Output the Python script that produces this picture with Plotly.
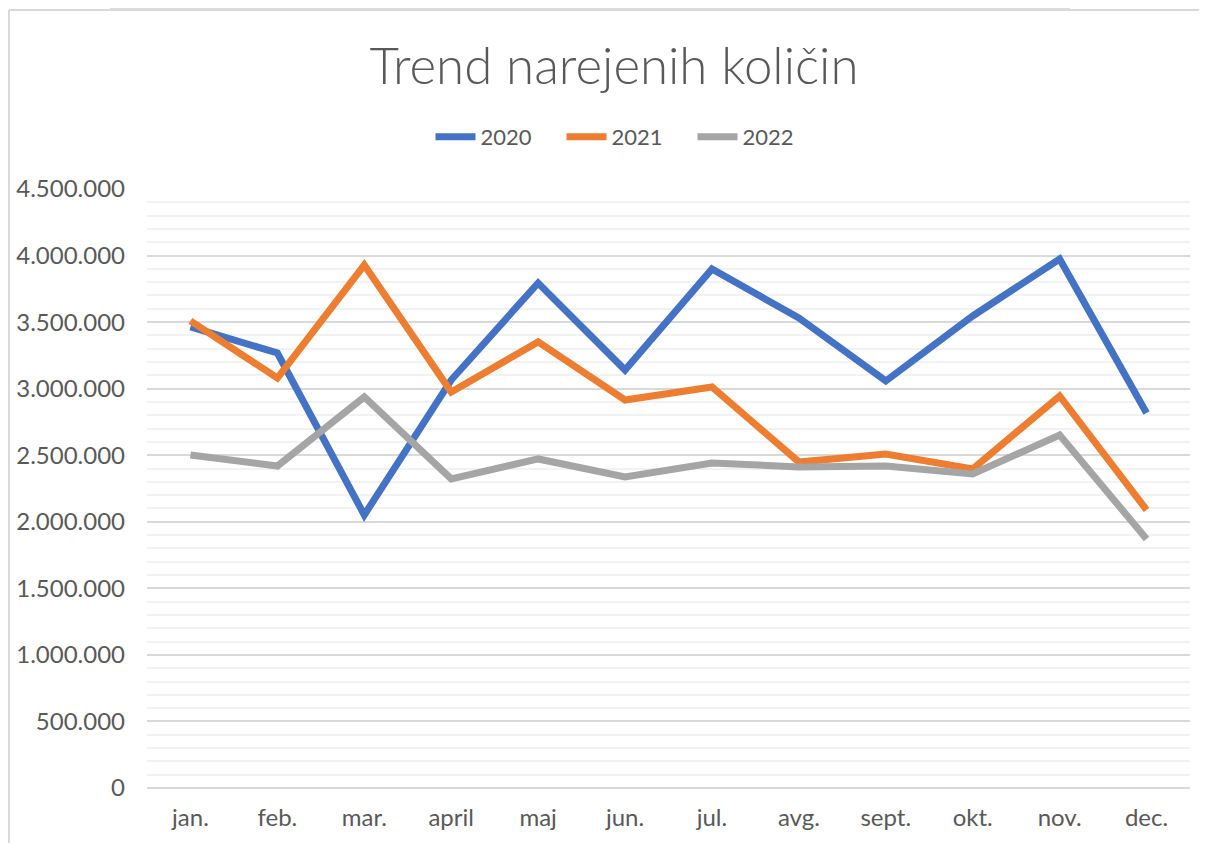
import plotly.graph_objects as go

months = ["jan.", "feb.", "mar.", "april", "maj", "jun.", "jul.", "avg.", "sept.", "okt.", "nov.", "dec."]
y2020 = [3464000, 3268000, 2051000, 3065000, 3794000, 3140000, 3899000, 3531000, 3058000, 3546000, 3974000, 2817000]
y2021 = [3509000, 3080000, 3929000, 2975000, 3351000, 2915000, 3013000, 2449000, 2509000, 2397000, 2945000, 2089000]
y2022 = [2502000, 2419000, 2938000, 2322000, 2472000, 2337000, 2442000, 2412000, 2419000, 2359000, 2652000, 1871000]

series = [("2020", y2020, "#4472C4"), ("2021", y2021, "#ED7D31"), ("2022", y2022, "#A5A5A5")]

FONT = "Lato"
TXT = "#595959"

# page is offset by the 8px body margin
OFF = 8
W, H = 1207 - OFF, 843 - OFF
PL, PR, PT, PB = 147, 1190, 189, 788  # plot area in page pixels

fig = go.Figure()
for name, vals, col in series:
    fig.add_trace(go.Scatter(x=months, y=vals, name=name, mode="lines",
                             line=dict(color=col, width=7)))

def px(x):
    return (x - PL) / (PR - PL)
def py(y):
    return (PB - y) / (PB - PT)

fig.update_layout(
    width=W, height=H,
    paper_bgcolor="white", plot_bgcolor="white",
    margin=dict(l=PL - OFF, r=W - (PR - OFF), t=PT - OFF, b=H - (PB - OFF), autoexpand=False),
    separators=",.",
    title=dict(text="Trend narejenih količin", xref="container", x=(614 - OFF) / W, xanchor="center",
               yref="container", y=1 - (66 - OFF) / H, yanchor="middle",
               font=dict(family=FONT, size=51, color=TXT, weight=300)),
    legend=dict(orientation="h", x=px(627), xanchor="center", y=py(137),
                yanchor="middle", font=dict(family=FONT, size=22, color=TXT),
                itemwidth=40, entrywidth=76, entrywidthmode="pixels", tracegroupgap=0),
    xaxis=dict(showgrid=False, showline=False, ticks="", zeroline=False,
               range=[-0.5, 11.5], automargin=False,
               tickfont=dict(family=FONT, size=24, color=TXT),
               ticklabelstandoff=13),
    yaxis=dict(range=[0, 4500000], dtick=500000, tickformat=",d", automargin=False,
               showgrid=True, gridcolor="#D9D9D9", gridwidth=1.5,
               zeroline=True, zerolinecolor="#D9D9D9", zerolinewidth=1.5,
               showline=False, ticks="",
               minor=dict(dtick=100000, showgrid=True, gridcolor="#F2F2F2", gridwidth=1.5),
               tickfont=dict(family=FONT, size=24, color=TXT),
               ticklabelstandoff=21),
    showlegend=True,
)

# chart frame (screenshot border)
fig.add_shape(type="line", xref="paper", yref="paper", x0=px(9), x1=px(9), y0=py(843), y1=py(10),
              line=dict(color="#D9D9D9", width=2))
fig.add_shape(type="line", xref="paper", yref="paper", x0=px(9), x1=px(1207), y0=py(10), y1=py(10),
              line=dict(color="#D9D9D9", width=2))
fig.add_shape(type="line", xref="paper", yref="paper", x0=px(110), x1=px(1070), y0=py(8), y1=py(8),
              line=dict(color="#DDDDDD", width=3))

fig.write_html("out.html")
